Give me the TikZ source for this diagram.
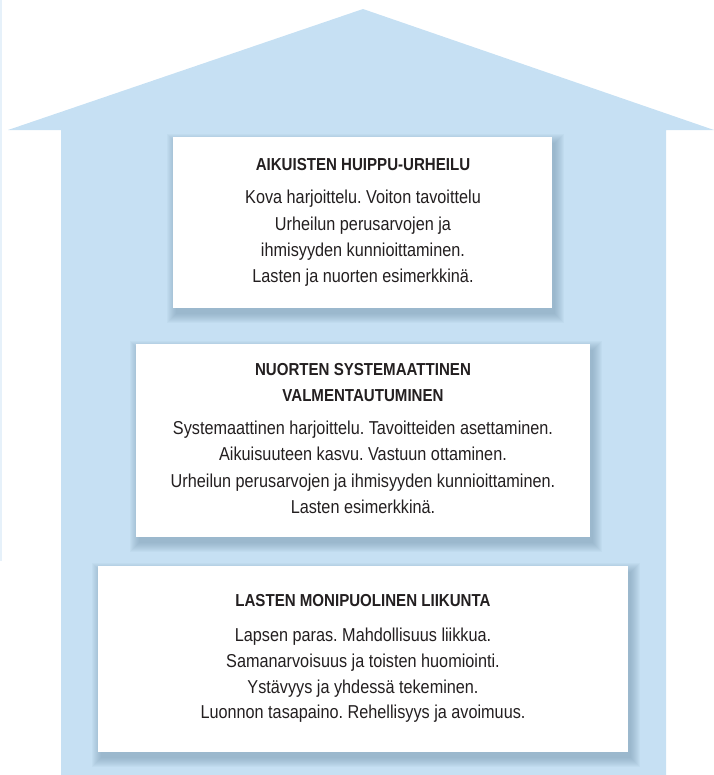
\documentclass[tikz,border=0pt]{standalone}
\usepackage{fontspec}
\setmainfont{Liberation Sans}[FakeStretch=0.87]
\frenchspacing
\definecolor{housefill}{HTML}{C6E0F3}
\definecolor{stripcol}{HTML}{E6F1FA}
\definecolor{shadowcol}{HTML}{6F8FA8}
\definecolor{textcol}{HTML}{231F20}
\newcommand\softshadow[4]{%
  \foreach \i in {0,...,9}{%
    \fill[shadowcol, opacity=0.06] (#1+3-\i,#2+6-\i) rectangle (#3+3+\i,#4+6+\i);
  }%
}
\begin{document}
\begin{tikzpicture}[x=0.75pt,y=-0.75pt,
  ttl/.style={anchor=base, inner sep=0pt, text=textcol, font=\fontsize{13}{15}\selectfont\bfseries},
  txt/.style={anchor=base, inner sep=0pt, text=textcol, font=\fontsize{14}{16}\selectfont}]
\useasboundingbox (0,0) rectangle (714,775);
\fill[stripcol] (0,0) rectangle (1.5,561);
\fill[housefill] (8,130) -- (363,9) -- (714,130) -- (666,130) -- (666,775) -- (61,775) -- (61,130) -- cycle;
% panels
\softshadow{173}{137}{552}{308}
\fill[white] (173,137) rectangle (552,308);
\softshadow{136}{344}{590}{537}
\fill[white] (136,344) rectangle (590,537);
\softshadow{98}{566}{628}{752}
\fill[white] (98,566) rectangle (628,752);
% panel 1
\node[ttl] (t1) at (363,170.7) {AIKUISTEN HUIPPU-URHEILU};
\node[txt] (a1) at (363,203.3) {Kova harjoittelu. Voiton tavoittelu};
\node[txt] (a2) at (363,230) {Urheilun perusarvojen ja};
\node[txt] (a3) at (363,256.7) {ihmisyyden kunnioittaminen.};
\node[txt] (a4) at (363,282.5) {Lasten ja nuorten esimerkkinä.};
% panel 2
\node[ttl] (t2a) at (363,375.7) {NUORTEN SYSTEMAATTINEN};
\node[ttl] (t2b) at (363,401.7) {VALMENTAUTUMINEN};
\node[txt] (b1) at (363,434) {Systemaattinen harjoittelu. Tavoitteiden asettaminen.};
\node[txt] (b2) at (363,460.7) {Aikuisuuteen kasvu. Vastuun ottaminen.};
\node[txt] (b3) at (363,487) {Urheilun perusarvojen ja ihmisyyden kunnioittaminen.};
\node[txt] (b4) at (363,513.3) {Lasten esimerkkinä.};
% panel 3
\node[ttl] (t3) at (363,606.7) {LASTEN MONIPUOLINEN LIIKUNTA};
\node[txt] (c1) at (363,641.7) {Lapsen paras. Mahdollisuus liikkua.};
\node[txt] (c2) at (363,667.3) {Samanarvoisuus ja toisten huomiointi.};
\node[txt] (c3) at (363,693.3) {Ystävyys ja yhdessä tekeminen.};
\node[txt] (c4) at (363,718.3) {Luonnon tasapaino. Rehellisyys ja avoimuus.};
\end{tikzpicture}
\end{document}
